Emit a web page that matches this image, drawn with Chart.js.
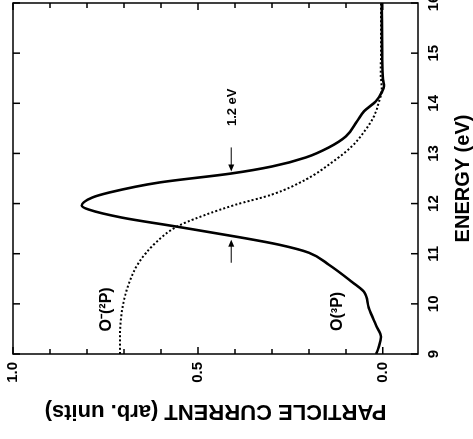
<!DOCTYPE html>
<html>
<head>
<meta charset="utf-8">
<script src="https://cdn.jsdelivr.net/npm/chart.js@4.4.1/dist/chart.umd.min.js"></script>
<style>
html, body { margin: 0; padding: 0; background: #fff; overflow: hidden; }
/* chart is drawn upright, then turned 90deg counter-clockwise like the scan */
#wrap { position: absolute; left: 0; top: 0; width: 439px; height: 473px;
        transform-origin: 0 0; transform: translate(0px, 439px) rotate(-90deg); }
</style>
</head>
<body>
<div id="wrap"><canvas id="myChart" width="439" height="473"></canvas></div>
<script>
var energyTicks = [9, 10, 11, 12, 13, 14, 15, 16];
var currentTicks = [0.0, 0.5, 1.0];
var currentMinorTicks = [0.0, 0.1, 0.2, 0.3, 0.4, 0.5, 0.6, 0.7, 0.8, 0.9, 1.0];

// O(3P) - solid
var solidEnergy = [9.0, 9.14, 9.34, 9.58, 9.92, 10.24, 10.44, 10.78, 11.02, 11.18, 11.33, 11.54, 11.72, 11.88, 11.96,
                   12.12, 12.22, 12.42, 12.6, 12.74, 12.92, 13.12, 13.34, 13.64, 13.84, 14.04, 14.22, 14.34, 14.48, 15.0, 16.0];
var solidCurrent = [0.018, 0.011, 0.005, 0.019, 0.038, 0.051, 0.084, 0.146, 0.20, 0.281, 0.389, 0.557, 0.705, 0.795, 0.814,
                    0.786, 0.74, 0.605, 0.41, 0.30, 0.208, 0.146, 0.10, 0.07, 0.051, 0.019, 0.003, -0.003, 0.0, 0.002, 0.003];

// O-(2P) - dotted
var dottedEnergy = [9.0, 9.28, 9.88, 10.42, 10.82, 11.22, 11.54, 11.78, 11.98, 12.18, 12.48, 12.82, 13.14, 13.48, 13.74,
                    14.02, 14.28, 14.6, 15.0, 16.0];
var dottedCurrent = [0.711, 0.711, 0.705, 0.686, 0.66, 0.614, 0.557, 0.478, 0.397, 0.30, 0.208, 0.138, 0.084, 0.046, 0.024,
                     0.011, 0.003, 0.006, 0.005, 0.005];

var labelTexts = ['O\u207B(\u00B2P)', 'O(\u00B3P)', '1.2 eV'];
var labelEnergy = [9.89, 9.85, 13.92];
var labelCurrent = [0.747, 0.123, 0.407];

// FWHM arrows: tail energy -> head energy, at a current level
var arrowFrom = [13.12, 10.82];
var arrowTo = [12.64, 11.28];
var arrowAt = [0.41, 0.41];

var FONT = "'Liberation Sans', Arial, Helvetica, sans-serif";

function toPoints(xs, ys) {
    return xs.map(function (x, i) { return { x: x, y: ys[i] }; });
}

var framePlugin = {
    id: 'frame',
    afterDatasetsDraw: function (chart) {
        var ctx = chart.ctx, a = chart.chartArea;
        var xs = chart.scales.x, ys = chart.scales.y;
        ctx.save();
        ctx.strokeStyle = '#000';
        ctx.lineWidth = 1.5;
        ctx.strokeRect(a.left, a.top, a.right - a.left, a.bottom - a.top);

        ctx.beginPath();
        energyTicks.forEach(function (e) {
            var px = xs.getPixelForValue(e);
            ctx.moveTo(px, a.bottom); ctx.lineTo(px, a.bottom - 7);
            ctx.moveTo(px, a.top); ctx.lineTo(px, a.top + 7);
        });
        currentMinorTicks.forEach(function (v, i) {
            var py = ys.getPixelForValue(v);
            var len = (i % 5 === 0) ? 7 : 5;
            ctx.moveTo(a.left, py); ctx.lineTo(a.left + len, py);
            ctx.moveTo(a.right, py); ctx.lineTo(a.right - len, py);
        });
        ctx.stroke();

        // arrows
        ctx.lineWidth = 1;
        ctx.fillStyle = '#000';
        for (var i = 0; i < arrowFrom.length; i++) {
            var x0 = xs.getPixelForValue(arrowFrom[i]);
            var x1 = xs.getPixelForValue(arrowTo[i]);
            var y = ys.getPixelForValue(arrowAt[i]);
            var dir = x1 > x0 ? 1 : -1;
            ctx.beginPath();
            ctx.moveTo(x0, y); ctx.lineTo(x1 - dir * 5, y);
            ctx.stroke();
            ctx.beginPath();
            ctx.moveTo(x1, y);
            ctx.lineTo(x1 - dir * 7, y - 3);
            ctx.lineTo(x1 - dir * 7, y + 3);
            ctx.closePath();
            ctx.fill();
        }

        // labels
        ctx.textAlign = 'center';
        ctx.textBaseline = 'middle';
        labelTexts.forEach(function (t, i) {
            ctx.font = (i === 2 ? 'bold 13px ' : 'bold 16px ') + FONT;
            ctx.fillText(t, xs.getPixelForValue(labelEnergy[i]), ys.getPixelForValue(labelCurrent[i]));
        });
        ctx.restore();
    }
};

function drawChart() {
    var ctx = document.getElementById('myChart').getContext('2d');
    var myChart = new Chart(ctx, {
        type: 'line',
        data: {
            datasets: [{
                label: 'O(3P)',
                data: toPoints(solidEnergy, solidCurrent),
                borderColor: '#000',
                borderWidth: 2.6,
                pointRadius: 0,
                cubicInterpolationMode: 'monotone'
            }, {
                label: 'O-(2P)',
                data: toPoints(dottedEnergy, dottedCurrent),
                borderColor: '#000',
                borderWidth: 2,
                borderDash: [2, 2.2],
                pointRadius: 0,
                cubicInterpolationMode: 'monotone'
            }]
        },
        options: {
            responsive: false,
            animation: false,
            layout: { padding: { left: 0, top: 13, right: 3, bottom: 0 } },
            plugins: { legend: { display: false }, tooltip: { enabled: false } },
            scales: {
                x: {
                    type: 'linear',
                    min: 9,
                    max: 16,
                    grid: { display: false, drawTicks: false },
                    border: { display: false },
                    ticks: {
                        stepSize: 1,
                        padding: 7,
                        color: '#000',
                        maxRotation: 0,
                        font: { family: FONT, size: 15, weight: 'bold' }
                    },
                    title: {
                        display: true,
                        text: 'ENERGY (eV)',
                        color: '#000',
                        padding: { top: 0, bottom: 0 },
                        font: { family: FONT, size: 20, weight: 'bold', lineHeight: 1 }
                    },
                    afterFit: function (scale) {
                        scale.height = 55;
                        scale.paddingLeft = 0;
                        scale.paddingRight = 0;
                    }
                },
                y: {
                    type: 'linear',
                    min: -0.095,
                    max: 1.0,
                    grid: { display: false, drawTicks: false },
                    border: { display: false },
                    afterBuildTicks: function (scale) {
                        scale.ticks = currentTicks.map(function (v) { return { value: v }; });
                    },
                    ticks: {
                        padding: 8,
                        color: '#000',
                        font: { family: FONT, size: 15, weight: 'bold' },
                        callback: function (v) { return Number(v).toFixed(1); }
                    },
                    title: {
                        display: true,
                        text: 'PARTICLE CURRENT (arb. units)',
                        color: '#000',
                        padding: { top: 17, bottom: 0 },
                        font: { family: FONT, size: 22, weight: 'bold', lineHeight: 1 }
                    },
                    afterFit: function (scale) {
                        scale.width = 85;
                        scale.paddingTop = 0;
                        scale.paddingBottom = 0;
                    }
                }
            }
        },
        plugins: [framePlugin]
    });
}

window.onload = function () {
    drawChart();
};
</script>
</body>
</html>
